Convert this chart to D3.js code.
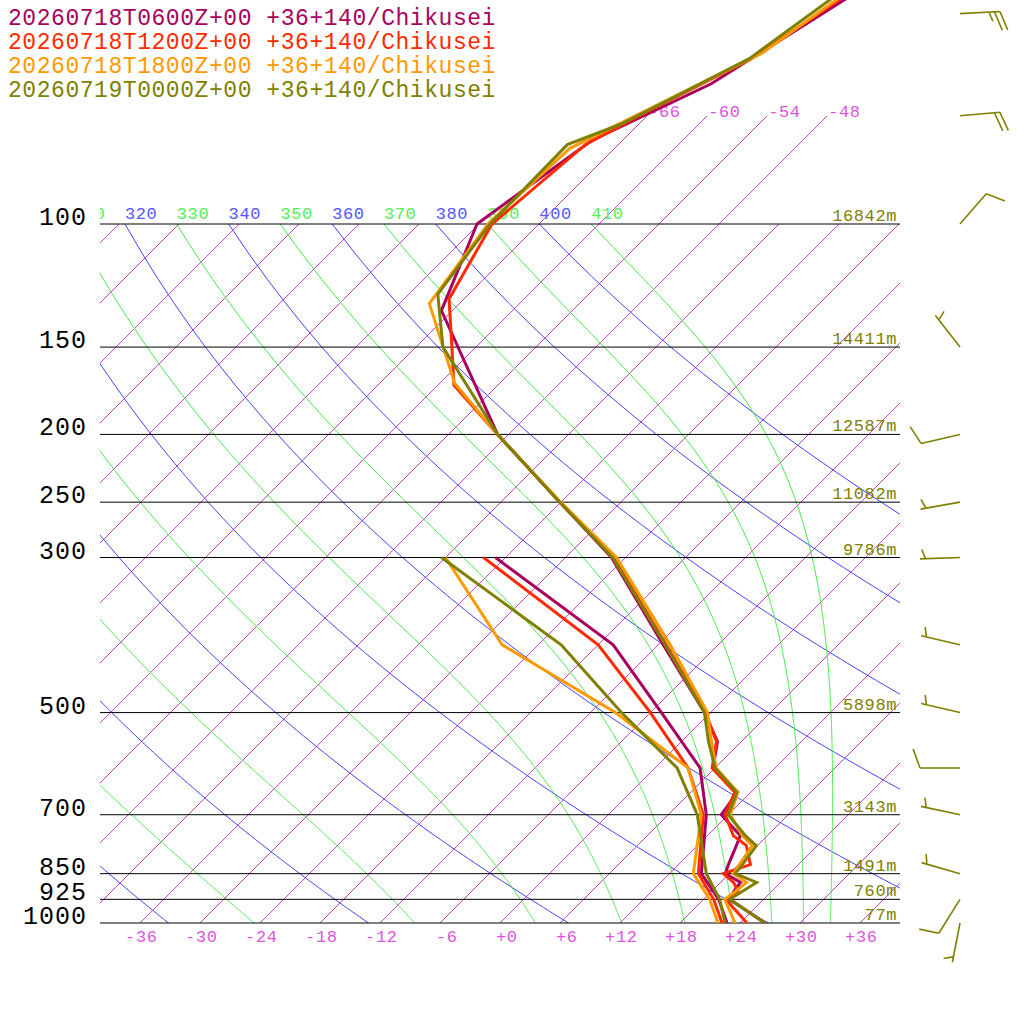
<!DOCTYPE html>
<html>
<head>
<meta charset="utf-8">
<script src="https://cdn.jsdelivr.net/npm/d3@7"></script>
<style>
  body { margin: 0; background: #fff; }
  svg { display: block; }
  text { font-family: "Liberation Mono", "DejaVu Sans Mono", monospace; }
</style>
</head>
<body>
<svg id="chart" width="1024" height="1024"></svg>
<script>
const runLabels = ["20260718T0600Z+00", "20260718T1200Z+00", "20260718T1800Z+00", "20260719T0000Z+00"];
const siteLabel = "+36+140/Chikusei";
const runColors = ["#a8005e", "#ff2a00", "#ff9900", "#808000"];

// temperature (deg C), lower/middle troposphere on common levels
const tempLevels = [1000, 925, 900, 875, 850, 825, 775, 750, 700, 650, 600, 550, 500, 400, 300, 250, 200];
const temp06 = [26.5, 20.6, 20.2, 20.0, 17.6, 17.0, 15.9, 15.3, 11.3, 10.7, 5.8, 3.6, -0.6, -11.5, -25.4, -36.1, -49.1];
const temp12 = [24.7, 20.2, 20.6, 19.3, 17.4, 19.2, 16.9, 14.6, 11.7, 10.4, 5.7, 3.5, -0.5, -11.2, -25.2, -36.1, -49.1];
const temp18 = [23.5, 20.1, 20.4, 20.6, 18.4, 18.1, 17.5, 15.5, 12.2, 10.7, 6.1, 3.0, -0.3, -10.8, -24.9, -36.0, -49.1];
const temp00 = [26.5, 20.6, 21.1, 21.6, 18.6, 18.4, 17.9, 15.8, 12.0, 10.6, 6.0, 2.7, -0.6, -11.3, -25.3, -36.1, -49.1];

// temperature above 200 hPa
const upper06P = [133, 100, 76, 63, 30];
const upper06T = [-67.1, -72.2, -69.1, -62.8, -49.6];
const upper12P = [170, 150, 128, 100, 77, 70, 58, 30];
const upper12T = [-58.4, -62.4, -67.5, -70.7, -69.3, -66.8, -61.3, -51.4];
const upper18P = [169, 130, 100, 78, 57, 30];
const upper18T = [-58.5, -69.0, -71.1, -70.5, -60.8, -53.1];
const upper00P = [150, 126, 100, 77, 72, 58, 30];
const upper00T = [-63.3, -69.1, -70.9, -71.1, -67.8, -61.5, -54.1];

// dew point (deg C)
const dewLevels = [1000, 925, 850, 700, 600, 500, 400, 300];
const dew06 = [22.7, 19.5, 15.2, 9.8, 4.5, -4.9, -16.5, -37.0];
const dew12 = [22.2, 19.0, 14.9, 9.5, 3.3, -6.0, -18.0, -38.2];
const dew18 = [21.8, 18.6, 14.4, 9.3, 3.3, -9.5, -27.6, -42.0];
const dew00 = [22.5, 19.6, 15.7, 8.9, 2.2, -8.9, -21.7, -42.4];

// isobars, labels and geopotential heights
const isobars = [100, 150, 200, 250, 300, 500, 700, 850, 925, 1000];
const heights = [16842, 14411, 12587, 11082, 9786, 5898, 3143, 1491, 760, 77];
const tempTicks = [-36, -30, -24, -18, -12, -6, 0, 6, 12, 18, 24, 30, 36];
const upperIsotherms = [-66, -60, -54, -48];
const dryThetas = [200, 220, 240, 260, 280, 300, 320, 340, 360, 380, 400];
const moistThetas = [230, 250, 270, 290, 310, 330, 350, 370, 390, 410];

// wind barbs (last run)
const barbP = [50, 70, 100, 150, 200, 250, 300, 400, 500, 600, 700, 850, 925, 1000];
const barbDir = [87, 85, 41, 322, 257, 260, 268, 283, 283, 270, 282, 286, 212, 191];
const barbSpd = [25, 20, 10, 5, 10, 5, 5, 5, 5, 10, 5, 5, 10, 5];

// ---- scales ----
const svg = d3.select("#chart");
const y = d3.scaleLog().domain([1000, 100]).range([923, 224]);
const x = d3.scaleLinear().domain([-40, 40]).range([100, 900]);
const skewX = (t, p) => x(t) + (y(1000) - y(p));
const K = 0.2857;

const defs = svg.append("defs");
defs.append("clipPath").attr("id", "plot")
    .append("rect").attr("x", 100).attr("y", 224).attr("width", 800).attr("height", 700);
defs.append("clipPath").attr("id", "toprow")
    .append("rect").attr("x", 100).attr("y", 0).attr("width", 800).attr("height", 224);

svg.append("rect").attr("width", 1024).attr("height", 1024).attr("fill", "#fff");

const bg = svg.append("g").attr("clip-path", "url(#plot)");

// isotherms
d3.range(-108, 37, 6).forEach(t => {
    bg.append("line")
        .attr("x1", skewX(t, 1000)).attr("y1", y(1000))
        .attr("x2", skewX(t, 100)).attr("y2", y(100))
        .attr("stroke", "#cc44cc").attr("stroke-width", 1);
});

// dry adiabats
const lineTP = d3.line().x(d => skewX(d.t, d.p)).y(d => y(d.p));
dryThetas.forEach(th => {
    const pts = d3.range(100, 1001, 10).map(p => ({ p: p, t: th * Math.pow(p / 1000, K) - 273.15 }));
    bg.append("path").attr("d", lineTP(pts))
        .attr("fill", "none").attr("stroke", "#4444f4").attr("stroke-width", 1);
});

// moist (pseudo) adiabats, integrated down from 100 hPa
function moistRate(p, T) {
    const Rd = 287.04, Cp = 1005.7, Lv = 2.501e6, eps = 0.622;
    const tc = T - 273.15;
    const es = 6.112 * Math.exp(17.67 * tc / (tc + 243.5));
    const rs = eps * es / (p - es);
    return (Rd * T + Lv * rs) / (Cp + Lv * Lv * rs * eps / (Rd * T * T)) / p;
}
function moistPath(th) {
    let T = th * Math.pow(0.1, K);
    let p = 100;
    const dp = 2;
    const pts = [{ p: p, t: T - 273.15 }];
    while (p < 1000) {
        const k1 = moistRate(p, T);
        const k2 = moistRate(p + dp / 2, T + k1 * dp / 2);
        const k3 = moistRate(p + dp / 2, T + k2 * dp / 2);
        const k4 = moistRate(p + dp, T + k3 * dp);
        T += dp * (k1 + 2 * k2 + 2 * k3 + k4) / 6;
        p += dp;
        pts.push({ p: p, t: T - 273.15 });
    }
    return pts;
}
moistThetas.forEach(th => {
    bg.append("path").attr("d", lineTP(moistPath(th)))
        .attr("fill", "none").attr("stroke", "#44e844").attr("stroke-width", 1);
});

// isotherms above 100 hPa with labels
upperIsotherms.forEach(t => {
    svg.append("line")
        .attr("x1", skewX(t, 100)).attr("y1", y(100))
        .attr("x2", skewX(t, 70)).attr("y2", y(70))
        .attr("stroke", "#cc44cc").attr("stroke-width", 1);
    svg.append("text")
        .attr("x", skewX(t, 70) + 1).attr("y", y(70) + 1)
        .attr("fill", "#dd55dd").style("font-size", "17px").style("letter-spacing", "0.6px")
        .text((t < 0 ? "-" : "+") + Math.abs(t));
});

// theta labels on the 100 hPa row (only those that reach the plot)
const topRow = svg.append("g").attr("clip-path", "url(#toprow)");
dryThetas.concat(moistThetas).sort((a, b) => a - b).forEach(th => {
    const t = th * Math.pow(0.1, K) - 273.15;
    const lx = skewX(t, 100);
    if (lx < 60) return;
    topRow.append("text")
        .attr("x", lx).attr("y", 219)
        .attr("fill", th % 20 === 0 ? "#5555ff" : "#55ee55")
        .style("font-size", "17px").style("letter-spacing", "0.6px")
        .text(th);
});

// isobars, pressure labels and heights
isobars.forEach((p, i) => {
    svg.append("line")
        .attr("x1", 100).attr("x2", 900).attr("y1", y(p)).attr("y2", y(p))
        .attr("stroke", "#000").attr("stroke-width", 1);
    svg.append("text")
        .attr("x", 87).attr("y", y(p) + 1).attr("text-anchor", "end")
        .attr("fill", "#000").style("font-size", "25px").style("letter-spacing", "1px")
        .text(p);
    svg.append("text")
        .attr("x", 897).attr("y", y(p) - 3).attr("text-anchor", "end")
        .attr("fill", "#808000").style("font-size", "17px").style("letter-spacing", "0.6px")
        .text(heights[i] + "m");
});

// temperature axis
svg.append("g")
    .attr("transform", `translate(0,${y(1000)})`)
    .call(d3.axisBottom(x).tickValues(tempTicks).tickSize(0)
        .tickFormat(d => (d < 0 ? "-" : "+") + Math.abs(d)))
    .call(g => g.select(".domain").remove())
    .selectAll("text")
    .attr("text-anchor", "end")
    .attr("dx", 17)
    .attr("y", 19)
    .attr("dy", 0)
    .attr("fill", "#dd55dd")
    .style("font-family", "'Liberation Mono', monospace")
    .style("font-size", "17px")
    .style("letter-spacing", "0.6px");

// profiles
const tempRuns = [temp06, temp12, temp18, temp00];
const upperP = [upper06P, upper12P, upper18P, upper00P];
const upperT = [upper06T, upper12T, upper18T, upper00T];
const dewRuns = [dew06, dew12, dew18, dew00];
const prof = svg.append("g");
tempRuns.forEach((tr, i) => {
    const tPts = tempLevels.map((p, j) => ({ p: p, t: tr[j] }))
        .concat(upperP[i].map((p, j) => ({ p: p, t: upperT[i][j] })));
    const dPts = dewLevels.map((p, j) => ({ p: p, t: dewRuns[i][j] }));
    prof.append("path").attr("d", lineTP(tPts))
        .attr("fill", "none").attr("stroke", runColors[i]).attr("stroke-width", 3);
    prof.append("path").attr("d", lineTP(dPts))
        .attr("fill", "none").attr("stroke", runColors[i]).attr("stroke-width", 3);
});

// wind barbs
const barbs = svg.append("g").attr("stroke", "#808000").attr("stroke-width", 1.6).attr("fill", "none");
barbP.forEach((p, i) => {
    const bx = 960, by = y(p);
    const a = barbDir[i] * Math.PI / 180;
    const ux = Math.sin(a), uy = -Math.cos(a);
    const tx = bx + ux * 40, ty = by + uy * 40;
    const r = 70 * Math.PI / 180;
    const fx = ux * Math.cos(r) - uy * Math.sin(r);
    const fy = ux * Math.sin(r) + uy * Math.cos(r);
    let d = `M${bx},${by}L${tx},${ty}`;
    const full = Math.floor(barbSpd[i] / 10);
    const half = barbSpd[i] % 10 >= 5;
    let pos = 0;
    for (let k = 0; k < full; k++) {
        d += `M${tx - ux * pos},${ty - uy * pos}l${fx * 20},${fy * 20}`;
        pos += 5.5;
    }
    if (half) {
        if (full === 0) pos = 5.5;
        d += `M${tx - ux * pos},${ty - uy * pos}l${fx * 10},${fy * 10}`;
    }
    barbs.append("path").attr("d", d);
});

// legend
runLabels.forEach((lab, i) => {
    svg.append("text")
        .attr("x", 8).attr("y", 25 + i * 24)
        .attr("fill", runColors[i])
        .style("font-size", "23px").style("letter-spacing", "0.55px")
        .text(lab + " " + siteLabel);
});
</script>
</body>
</html>
